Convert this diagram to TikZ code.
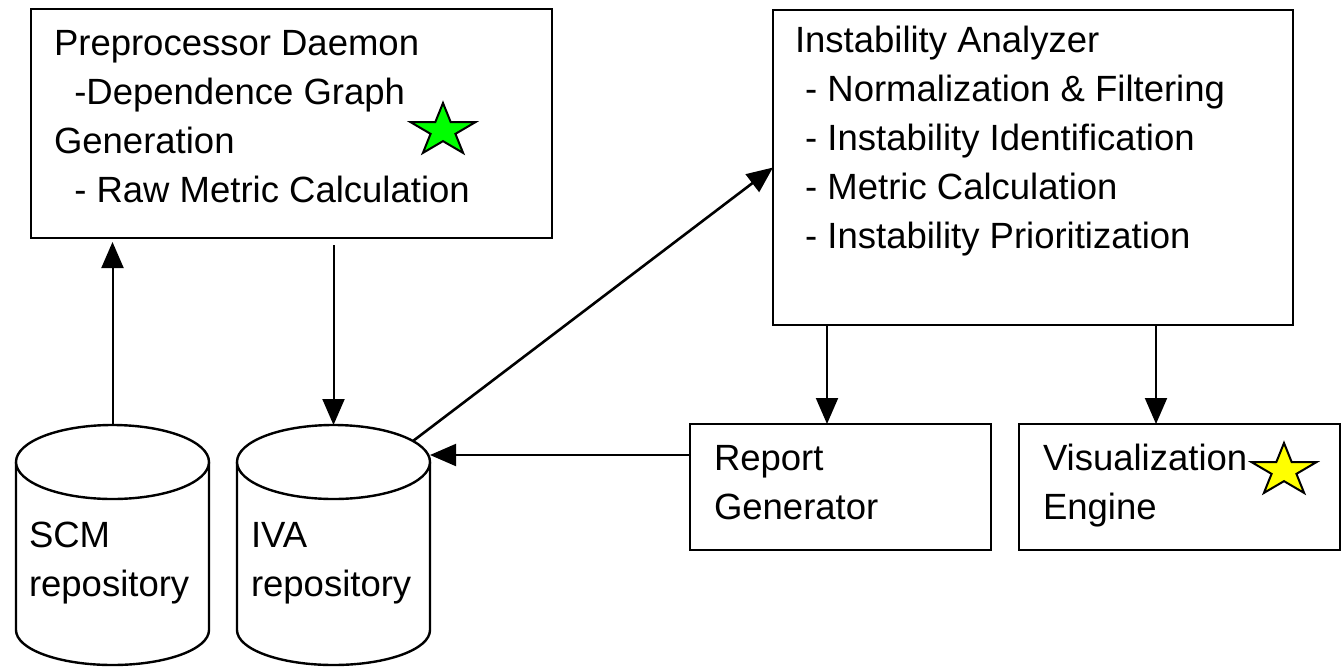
\documentclass[tikz,border=0pt]{standalone}
\usepackage{fontspec}
\setmainfont{Liberation Sans}
\usetikzlibrary{arrows.meta,calc}

\definecolor{stargreen}{RGB}{0,255,0}
\definecolor{staryellow}{RGB}{255,255,0}

% several text lines stacked; the node's base is the first line's baseline
\newcommand\textlines[1]{\vtop{\baselineskip=49pt\lineskiplimit=-100pt #1}}

% repository drum drawn around the (invisible) node #1
\newcommand\repodrum[1]{%
  \begin{scope}[shift={(#1.center)}]
    \fill[white] (-96.5,83) -- (-96.5,-85)
      arc[start angle=180,end angle=360,x radius=96.5,y radius=35] -- (96.5,83) -- cycle;
    \draw[drum] (-96.5,83) -- (-96.5,-85)
      arc[start angle=180,end angle=360,x radius=96.5,y radius=35] -- (96.5,83);
    \draw[drum, fill=white] (0,83) ellipse[x radius=96.5,y radius=37];
  \end{scope}}

% five-pointed star, stretched to the given radii
\newcommand\markstar[4]{%
  \begin{scope}[shift={(#1)}, xscale=#2, yscale=#3]
    \draw[line width=2pt, fill=#4, line join=miter]
      (90:1) -- (126:0.382) -- (162:1) -- (198:0.382) -- (234:1) --
      (270:0.382) -- (306:1) -- (342:0.382) -- (18:1) -- (54:0.382) -- cycle;
  \end{scope}}

\tikzset{
  box/.style={draw, line width=2.4pt, fill=white, inner sep=0pt, outer sep=0pt, anchor=north west},
  drum/.style={line width=2.4pt},
  drumbox/.style={minimum width=193pt, minimum height=240pt, inner sep=0pt, outer sep=0pt},
  txt/.style={inner sep=0pt, outer sep=0pt, anchor=base west, font=\fontsize{36.5pt}{49pt}\selectfont},
  arr/.style={line width=2pt, -{Triangle[length=26pt, width=22pt]}},
}

\begin{document}
\begin{tikzpicture}[x=1pt, y=1pt]
  \useasboundingbox (0,0) rectangle (1341,-667);

  % processing boxes
  \node[box, minimum width=521pt, minimum height=229pt] (pre)  at (31,-9)    {};
  \node[box, minimum width=520pt, minimum height=315pt] (inst) at (773,-10)  {};
  \node[box, minimum width=301pt, minimum height=126pt] (rep)  at (690,-424) {};
  \node[box, minimum width=321pt, minimum height=126pt] (vis)  at (1019,-424) {};

  % repositories
  \node[drumbox] (scm) at (112.5,-545) {};
  \node[drumbox] (iva) at (333.5,-545) {};
  \repodrum{scm}
  \repodrum{iva}

  % labels
  \node[txt] (pretext) at (54,-55) {\textlines{%
    \hbox{Preprocessor Daemon}
    \hbox{\ \ -Dependence Graph}
    \hbox{Generation}
    \hbox{\ \ - Raw Metric Calculation}}};
  \node[txt] (insttext) at (795,-52) {\textlines{%
    \hbox{Instability Analyzer}
    \hbox{\ - Normalization \& Filtering}
    \hbox{\ - Instability Identification}
    \hbox{\ - Metric Calculation}
    \hbox{\ - Instability Prioritization}}};
  \node[txt] (reptext) at (714,-470) {\textlines{\hbox{Report}\hbox{Generator}}};
  \node[txt] (vistext) at (1043,-470) {\textlines{\hbox{Visualization}\hbox{Engine}}};
  \node[txt] (scmtext) at (29,-547) {\textlines{\hbox{SCM}\hbox{repository}}};
  \node[txt] (ivatext) at (251,-547) {\textlines{\hbox{IVA}\hbox{repository}}};

  % stars
  \markstar{443,-130.6}{34.2}{27.6}{stargreen}
  \markstar{1284,-470.6}{34.2}{27.6}{staryellow}

  % connector end points
  \coordinate (ivaNE) at ($(iva.center)+(79.5,104)$);
  \coordinate (ivaE)  at (430,-455);
  \coordinate (toRep) at (827,-424);
  \coordinate (toVis) at (1156,-424);

  % connectors
  \draw[arr, shorten >=4pt] (scm.north) -- (scm.north |- pre.south);
  \draw[arr, shorten <=7pt] (iva.north |- pre.south) -- (iva.north);
  \draw[arr, line width=2.6pt] (ivaNE) -- (inst.west);
  \draw[arr] (rep.west |- ivaE) -- (ivaE);
  \draw[arr] (inst.south -| toRep) -- (toRep);
  \draw[arr] (inst.south -| toVis) -- (toVis);
\end{tikzpicture}
\end{document}
